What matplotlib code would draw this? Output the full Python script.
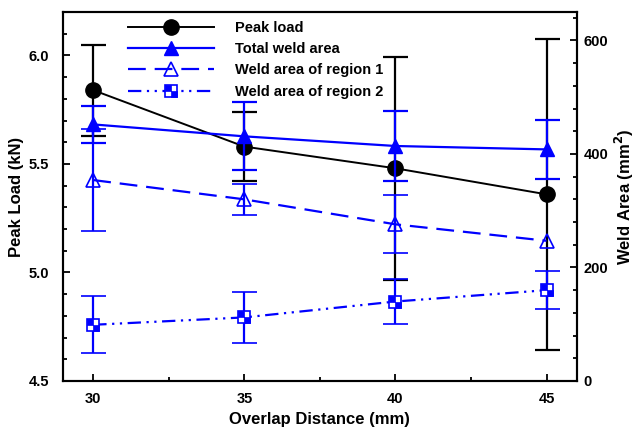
import numpy as np
import matplotlib
matplotlib.use("Agg")
import matplotlib.pyplot as plt
from matplotlib.lines import Line2D
from matplotlib.path import Path
from matplotlib.ticker import MultipleLocator, FormatStrFormatter

plt.rcParams["font.family"] = ["Liberation Sans", "DejaVu Sans"]
plt.rcParams["font.weight"] = "bold"

overlap = [30, 35, 40, 45]

peak_load = [5.84, 5.58, 5.48, 5.36]
peak_err = [0.21, 0.16, 0.515, 0.715]

total_area = [452, 431, 414, 408]
total_err = [33, 60, 62, 52]

region1_area = [354, 320, 276, 247]
region1_err = [90, 27, 51, np.nan]

region2_area = [99, 112, 140, 160]
region2_err = [50, 45, 40, 33]

BLUE = "#0000FF"
DASH = (0, (8, 4))
DASH_DOT_DOT = (0, (6, 2.5, 1, 2.5, 1, 2.5))

# checkerboard square marker: top-left and bottom-right quadrants filled
quad_path = Path(
    [(-1, 0), (0, 0), (0, 1), (-1, 1), (-1, 0),
     (0, -1), (1, -1), (1, 0), (0, 0), (0, -1)],
    [Path.MOVETO, Path.LINETO, Path.LINETO, Path.LINETO, Path.CLOSEPOLY,
     Path.MOVETO, Path.LINETO, Path.LINETO, Path.LINETO, Path.CLOSEPOLY],
)

fig = plt.figure(figsize=(6.43, 4.30), dpi=100)
ax = fig.add_axes([0.098, 0.114, 0.799, 0.858])
ax2 = ax.twinx()

eb_kw = dict(capsize=9, capthick=1.6, elinewidth=1.6)

ax.errorbar(overlap, peak_load, yerr=peak_err, color="black", lw=1.4,
            marker="o", ms=11, mfc="black", mec="black", ecolor="black", **eb_kw)

ax2.errorbar(overlap, total_area, yerr=total_err, color=BLUE, lw=1.6,
             marker="^", ms=10, mfc=BLUE, mec=BLUE, ecolor=BLUE, **eb_kw)
ax2.errorbar(overlap, region1_area, yerr=region1_err, color=BLUE, lw=1.6,
             ls=DASH, marker="^", ms=10, mfc="none", mec=BLUE,
             mew=1.2, ecolor=BLUE, **eb_kw)
ax2.errorbar(overlap, region2_area, yerr=region2_err, color=BLUE, lw=1.6,
             ls=DASH_DOT_DOT, marker="s", ms=8.5, mfc="white",
             mec=BLUE, mew=1.2, ecolor=BLUE, **eb_kw)
ax2.plot(overlap, region2_area, ls="none", marker=quad_path, ms=8.5,
         mfc=BLUE, mec=BLUE, mew=0.5, zorder=6)

ax.set_xlim(29, 46)
ax.set_ylim(4.5, 6.2)
ax2.set_ylim(0, 650)

ax.xaxis.set_major_locator(MultipleLocator(5))
ax.xaxis.set_minor_locator(MultipleLocator(2.5))
ax.yaxis.set_major_locator(MultipleLocator(0.5))
ax.yaxis.set_minor_locator(MultipleLocator(0.1))
ax2.yaxis.set_major_locator(MultipleLocator(200))
ax2.yaxis.set_minor_locator(MultipleLocator(40))
ax.yaxis.set_major_formatter(FormatStrFormatter("%.1f"))

ax.tick_params(axis="both", which="both", direction="in", top=False,
               right=False, labelsize=10.5, width=1.3)
ax.tick_params(axis="y", which="major", length=5, pad=10)
ax.tick_params(axis="x", which="major", length=5, pad=8)
ax.tick_params(which="minor", length=3)
ax2.tick_params(axis="y", which="both", direction="in", labelsize=10.5, width=1.3)
ax2.tick_params(which="major", length=5, pad=5)
ax2.tick_params(which="minor", length=3)

for a in (ax, ax2):
    for s in a.spines.values():
        s.set_linewidth(1.5)

ax.set_xlabel("Overlap Distance (mm)", fontsize=12, fontweight="bold", labelpad=4)
ax.set_ylabel("Peak Load (kN)", fontsize=12, fontweight="bold", labelpad=3)
ax2.set_ylabel("Weld Area (mm$^\\mathbf{2}$)", fontsize=12, fontweight="bold", labelpad=3)

handles = [
    Line2D([], [], color="black", lw=1.4, marker="o", ms=11),
    Line2D([], [], color=BLUE, lw=1.6, marker="^", ms=10),
    Line2D([], [], color=BLUE, lw=1.6, ls=DASH, marker="^", ms=10,
           mfc="none", mew=1.2),
    (Line2D([], [], color=BLUE, lw=1.6, ls=DASH_DOT_DOT,
            marker="s", ms=8.5, mfc="white", mew=1.2),
     Line2D([], [], ls="none", marker=quad_path, ms=8.5, color=BLUE, mew=0.5)),
]
labels = ["Peak load", "Total weld area", "Weld area of region 1",
          "Weld area of region 2"]
ax2.legend(handles, labels, loc="upper left", bbox_to_anchor=(0.11, 1.0),
           frameon=False, fontsize=10.5, handlelength=5.9, handletextpad=1.4,
           labelspacing=0.5, numpoints=1, borderaxespad=0.2)

fig.savefig("out.png", dpi=100)
